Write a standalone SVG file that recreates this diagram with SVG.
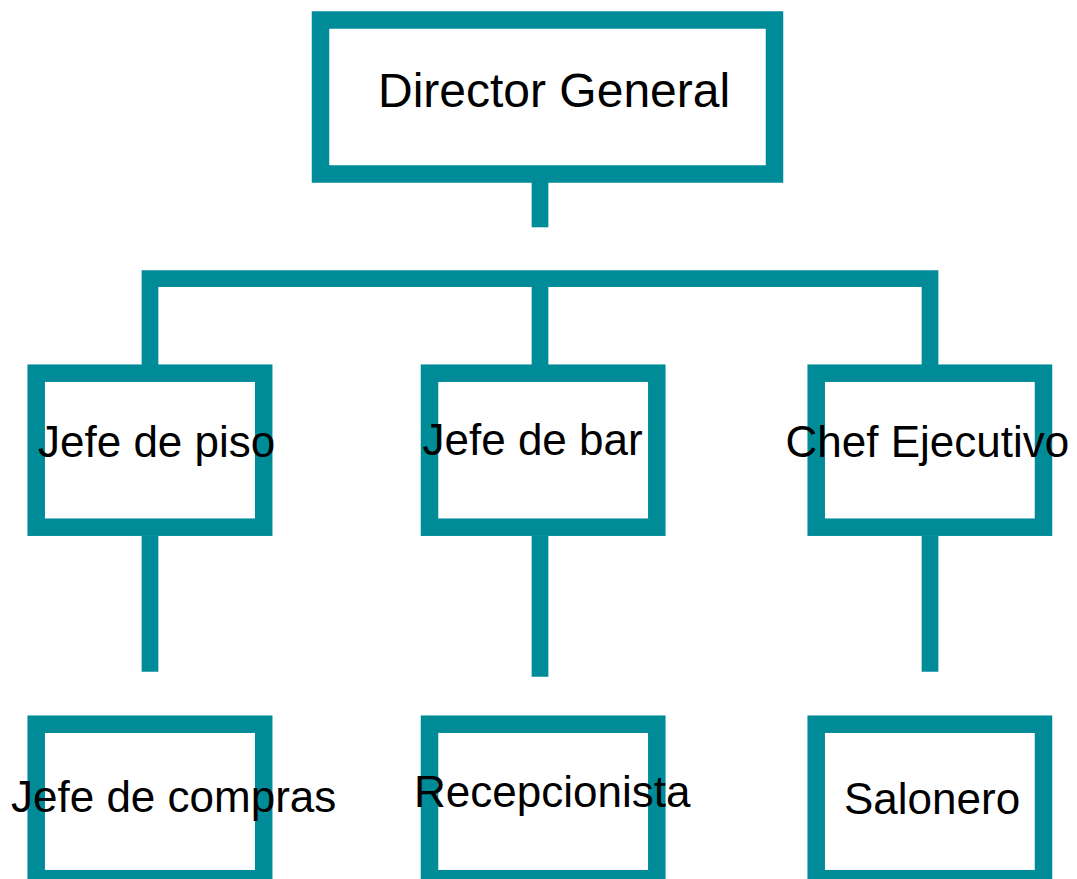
<svg xmlns="http://www.w3.org/2000/svg" width="1077" height="879" viewBox="0 0 1077 879">
<style>
.box{fill:#ffffff;stroke:#008b99;stroke-width:17.5}
.ln{fill:none;stroke:#008b99;stroke-width:16.7}
.t{font-family:"Liberation Sans",Arial,sans-serif;font-size:44px;fill:#000000}
.big{font-size:48px}
</style>
<rect width="1077" height="879" fill="#ffffff"/>
<g id="connectors">
<path class="ln" d="M540 182 V227.3"/>
<path class="ln" d="M150 365 V278.7 H930 V365"/>
<path class="ln" d="M540 278.7 V365"/>
<path class="ln" d="M150 536 V671.7"/>
<path class="ln" d="M540 536 V676.7"/>
<path class="ln" d="M930 536 V671.7"/>
</g>
<g id="director-general">
<rect class="box" x="320.5" y="20" width="454" height="154"/>
<text class="t big" x="378" y="106.7">Director General</text>
</g>
<g id="jefe-de-piso">
<rect class="box" x="36.2" y="373.2" width="227.5" height="154"/>
<text class="t" x="38" y="456.7">Jefe de piso</text>
</g>
<g id="jefe-de-bar">
<rect class="box" x="429.5" y="373.2" width="227.3" height="154"/>
<text class="t" x="422.5" y="455">Jefe de bar</text>
</g>
<g id="chef-ejecutivo">
<rect class="box" x="816.2" y="373.2" width="227.3" height="154"/>
<text class="t" x="785.5" y="456.7">Chef Ejecutivo</text>
</g>
<g id="jefe-de-compras">
<rect class="box" x="36.2" y="724.2" width="227.5" height="154.5"/>
<text class="t" x="11" y="811.7">Jefe de compras</text>
</g>
<g id="recepcionista">
<rect class="box" x="429.5" y="724.2" width="227.3" height="154.5"/>
<text class="t" x="414" y="806.7">Recepcionista</text>
</g>
<g id="salonero">
<rect class="box" x="816.2" y="724.2" width="227.3" height="154.5"/>
<text class="t" x="844" y="814">Salonero</text>
</g>
</svg>
